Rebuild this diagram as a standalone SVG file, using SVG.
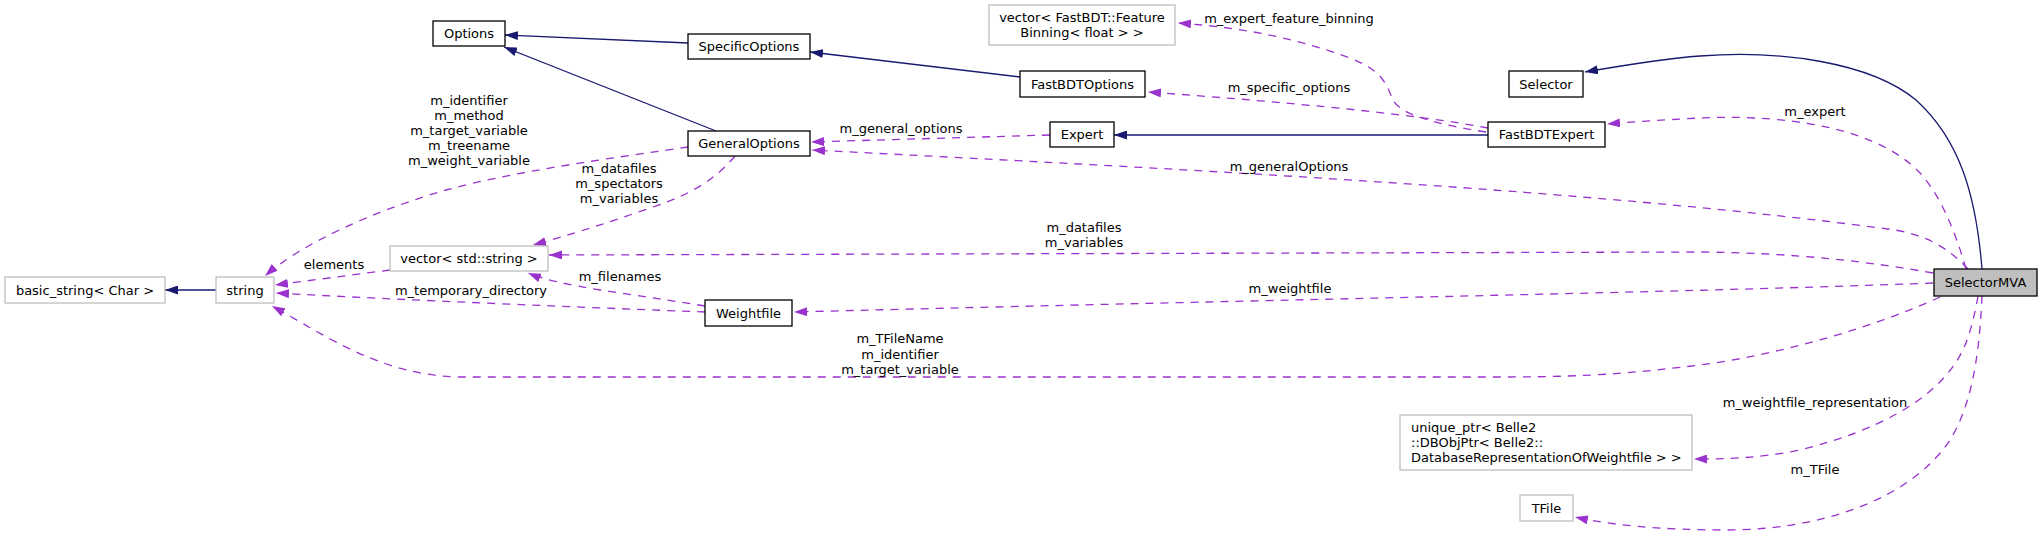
<svg xmlns="http://www.w3.org/2000/svg" width="2043" height="537" viewBox="0 0 2043 537">
<style>
  text { font-family: "DejaVu Sans", "Liberation Sans", sans-serif; font-size: 13px; fill: #000; }
  .c { text-anchor: middle; }
  .n rect { fill: #fff; stroke: #000; stroke-width: 1.3; }
  .u rect { fill: #fff; stroke: #bfbfbf; stroke-width: 1.3; }
  .me rect { fill: #bfbfbf; stroke: #000; stroke-width: 1.3; }
  .inh { fill: none; stroke: #191970; stroke-width: 1.3; marker-end: url(#ab); }
  .use { fill: none; stroke: #9a32cd; stroke-width: 1.3; stroke-dasharray: 8,7; marker-end: url(#ap); }
</style>
<defs>
  <marker id="ab" markerUnits="userSpaceOnUse" viewBox="0 0 13 9" markerWidth="13" markerHeight="9" refX="13" refY="4.5" orient="auto">
    <path d="M0,0 L13,4.5 L0,9 z" fill="#191970"/>
  </marker>
  <marker id="ap" markerUnits="userSpaceOnUse" viewBox="0 0 13 9" markerWidth="13" markerHeight="9" refX="13" refY="4.5" orient="auto">
    <path d="M0,0 L13,4.5 L0,9 z" fill="#9a32cd"/>
  </marker>
</defs>
<rect width="2043" height="537" fill="#fff"/>

<g id="edges">
  <path class="inh" d="M688,43 L505,35"/>
  <path class="inh" d="M716,131 L504,47"/>
  <path class="inh" d="M1020,77 L810,52"/>
  <path class="inh" d="M1488,135 L1114,135"/>
  <path class="inh" d="M1982,269 C1976,195 1960,140 1916,100 C1870,62 1780,50 1700,56 C1660,59 1620,66 1585,72"/>
  <path class="inh" d="M216,290 L165,290"/>

  <path class="use" d="M688,147 C620,157 520,170 446,190 C370,212 300,245 265,276"/>
  <path class="use" d="M735,156 C715,180 690,195 650,208 C610,222 570,235 533,245"/>
  <path class="use" d="M1050,135 L811,142"/>
  <path class="use" d="M1968,269 C1950,250 1930,236 1895,230 C1600,190 1200,170 812,150"/>
  <path class="use" d="M1488,128 C1420,115 1300,103 1148,92"/>
  <path class="use" d="M1486,132 C1440,125 1400,115 1393,100 C1385,80 1380,70 1350,58 C1300,40 1250,28 1178,23"/>
  <path class="use" d="M1966,269 C1955,230 1940,195 1920,173 C1870,120 1760,115 1700,118 C1660,120 1630,122 1607,124"/>
  <path class="use" d="M1933,273 C1870,262 1800,253 1700,252 L549,255"/>
  <path class="use" d="M1933,283 C1700,292 1300,299 794,312"/>
  <path class="use" d="M705,306 C680,302 640,296 600,290 C570,285 545,280 528,273"/>
  <path class="use" d="M705,312 C600,308 400,300 276,293"/>
  <path class="use" d="M390,270 L275,285"/>
  <path class="use" d="M1940,297 C1880,325 1780,355 1700,365 C1640,372 1600,377 1500,377 L460,377 C410,376 370,360 332,340 C310,328 290,316 272,306"/>
  <path class="use" d="M1978,296 C1972,330 1965,350 1954,365 C1930,400 1880,430 1800,450 C1760,458 1730,459 1694,459"/>
  <path class="use" d="M1982,296 C1980,340 1975,400 1950,440 C1910,500 1820,530 1727,530 C1660,530 1610,525 1575,517"/>

  <g id="edge-labels">
    <text class="c" x="469" y="104.5">m_identifier</text>
    <text class="c" x="469" y="119.5">m_method</text>
    <text class="c" x="469" y="134.5">m_target_variable</text>
    <text class="c" x="469" y="149.5">m_treename</text>
    <text class="c" x="469" y="164.5">m_weight_variable</text>
    <text class="c" x="619" y="172.5">m_datafiles</text>
    <text class="c" x="619" y="187.5">m_spectators</text>
    <text class="c" x="619" y="202.5">m_variables</text>
    <text class="c" x="901" y="133">m_general_options</text>
    <text class="c" x="1289" y="171">m_generalOptions</text>
    <text class="c" x="1289" y="92">m_specific_options</text>
    <text class="c" x="1289" y="23">m_expert_feature_binning</text>
    <text class="c" x="1815" y="116">m_expert</text>
    <text class="c" x="1084" y="232">m_datafiles</text>
    <text class="c" x="1084" y="247">m_variables</text>
    <text class="c" x="1290" y="293">m_weightfile</text>
    <text class="c" x="620" y="281">m_filenames</text>
    <text class="c" x="471" y="295">m_temporary_directory</text>
    <text class="c" x="334" y="269">elements</text>
    <text class="c" x="900" y="343">m_TFileName</text>
    <text class="c" x="900" y="359">m_identifier</text>
    <text class="c" x="900" y="374">m_target_variable</text>
    <text class="c" x="1815" y="407">m_weightfile_representation</text>
    <text class="c" x="1815" y="474">m_TFile</text>
  </g>
</g>

<g id="node-Options" class="n"><rect x="433" y="21" width="72" height="25"/><text class="c" x="469" y="38">Options</text></g>
<g id="node-SpecificOptions" class="n"><rect x="688" y="34" width="122" height="25"/><text class="c" x="749" y="51">SpecificOptions</text></g>
<g id="node-vectorFeatureBinning" class="u"><rect x="989" y="5" width="186" height="40"/><text class="c" x="1082" y="21.5">vector&lt; FastBDT::Feature</text><text class="c" x="1082" y="36.5">Binning&lt; float &gt; &gt;</text></g>
<g id="node-FastBDTOptions" class="n"><rect x="1020" y="71" width="125" height="26"/><text class="c" x="1082.5" y="88.5">FastBDTOptions</text></g>
<g id="node-Expert" class="n"><rect x="1050" y="122" width="64" height="25"/><text class="c" x="1082" y="139">Expert</text></g>
<g id="node-GeneralOptions" class="n"><rect x="688" y="131" width="122" height="25"/><text class="c" x="749" y="148">GeneralOptions</text></g>
<g id="node-Selector" class="n"><rect x="1509" y="71" width="74" height="26"/><text class="c" x="1546" y="88.5">Selector</text></g>
<g id="node-FastBDTExpert" class="n"><rect x="1488" y="122" width="117" height="25"/><text class="c" x="1546.5" y="139">FastBDTExpert</text></g>
<g id="node-SelectorMVA" class="me"><rect x="1934" y="269" width="103" height="27"/><text class="c" x="1985.5" y="287">SelectorMVA</text></g>
<g id="node-basic_string" class="u"><rect x="5" y="277" width="160" height="26"/><text class="c" x="85" y="294.5">basic_string&lt; Char &gt;</text></g>
<g id="node-string" class="u"><rect x="216" y="277" width="58" height="26"/><text class="c" x="245" y="294.5">string</text></g>
<g id="node-vectorString" class="u"><rect x="390" y="246" width="158" height="25"/><text class="c" x="469" y="263">vector&lt; std::string &gt;</text></g>
<g id="node-Weightfile" class="n"><rect x="705" y="300" width="87" height="26"/><text class="c" x="748.5" y="317.5">Weightfile</text></g>
<g id="node-unique_ptr" class="u"><rect x="1400" y="415" width="292" height="55"/><text x="1411" y="431.5">unique_ptr&lt; Belle2</text><text x="1411" y="446.5">::DBObjPtr&lt; Belle2::</text><text x="1411" y="461.5">DatabaseRepresentationOfWeightfile &gt; &gt;</text></g>
<g id="node-TFile" class="u"><rect x="1520" y="495" width="53" height="26"/><text class="c" x="1546.5" y="512.5">TFile</text></g>
</svg>
